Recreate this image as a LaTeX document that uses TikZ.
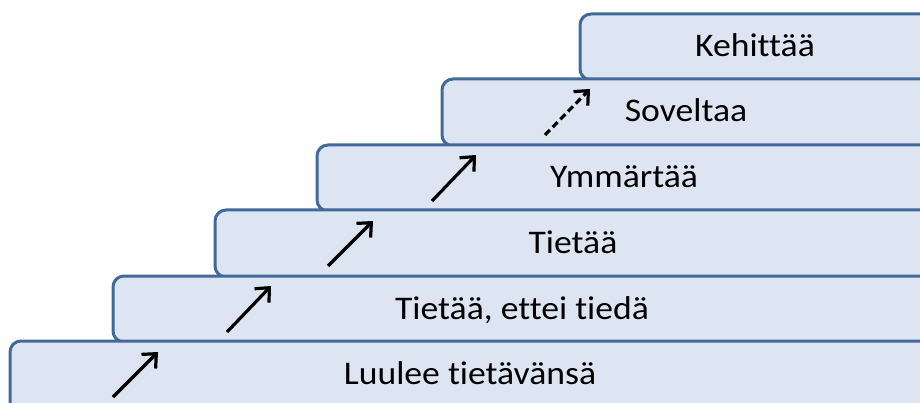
\documentclass[tikz,border=0pt]{standalone}
\usepackage{fontspec}
\setmainfont{Carlito}[Ligatures=NoCommon, FakeStretch=1.08]
\usetikzlibrary{arrows.meta}
\definecolor{boxfill}{HTML}{DCE5F1}
\definecolor{boxline}{HTML}{41699A}
\tikzset{
  stairbox/.style={draw=boxline, fill=boxfill, line width=3pt, rounded corners=11pt},
  label/.style={anchor=base, inner sep=0pt, font=\fontsize{33}{38}\selectfont},
  uparrow/.style={draw=black, line width=3.2pt, -{Straight Barb[length=11pt, width=20pt, line width=3.2pt]}},
  maybearrow/.style={uparrow, dash pattern=on 7pt off 4pt}
}
\begin{document}
\begin{tikzpicture}[x=1pt, y=-1pt]
\useasboundingbox (0,0) rectangle (920,403);
\clip (0,0) rectangle (920,403);
% boxes, top to bottom so lower ones cover the upper bottoms
\draw[stairbox] (580,14) rectangle (940,80);
\draw[stairbox] (442,79) rectangle (940,146);
\draw[stairbox] (317,145) rectangle (940,211);
\draw[stairbox] (215,210) rectangle (940,277);
\draw[stairbox] (113,276) rectangle (940,342);
\draw[stairbox] (10,341) rectangle (940,420);
% labels
\node[label] (kehittaa) at (755,57) {Kehittää};
\node[label] (soveltaa) at (686,122) {Soveltaa};
\node[label] (ymmartaa) at (624,188) {Ymmärtää};
\node[label] (tietaa) at (573,253) {Tietää};
\node[label] (ettei) at (522,319) {Tietää, ettei tiedä};
\node[label] (luulee) at (470,384) {Luulee tietävänsä};
% arrows
\coordinate (a1s) at (113,397); \coordinate (a1e) at (158,352);
\coordinate (a2s) at (227,332); \coordinate (a2e) at (271,286);
\coordinate (a3s) at (328,266); \coordinate (a3e) at (373,221);
\coordinate (a4s) at (432,201); \coordinate (a4e) at (476,155);
\coordinate (a5s) at (545,135); \coordinate (a5e) at (590,89);
\draw[uparrow] (a1s) -- (a1e);
\draw[uparrow] (a2s) -- (a2e);
\draw[uparrow] (a3s) -- (a3e);
\draw[uparrow] (a4s) -- (a4e);
\draw[maybearrow] (a5s) -- (a5e);
\end{tikzpicture}
\end{document}
